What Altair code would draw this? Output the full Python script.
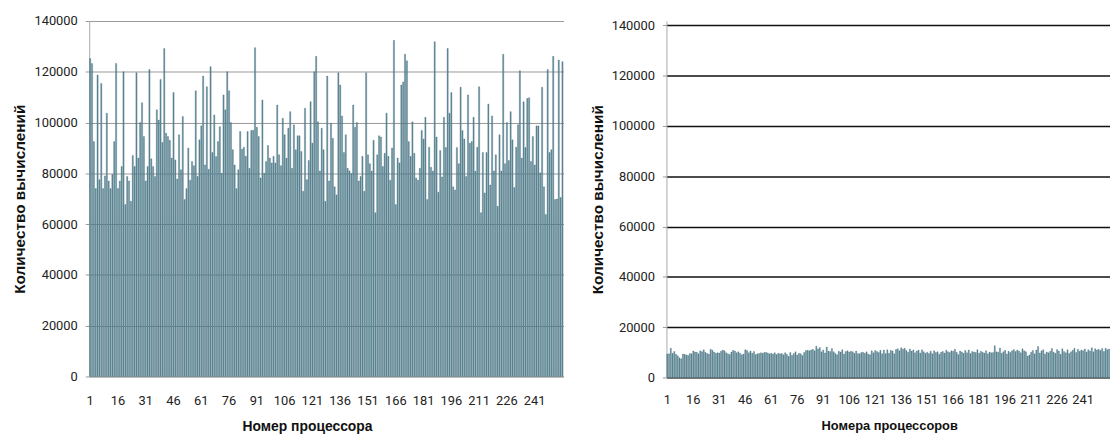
import altair as alt
import pandas as pd

# Left panel: number of computations per processor
left_values = [
    125200, 123300, 92500, 74000, 118700, 77500, 115400, 74000, 79000, 103700,
    77000, 74000, 79500, 92500, 123300, 74000, 77000, 82700, 120000, 67700,
    78800, 77000, 69000, 87000, 82700, 119600, 86000, 100000, 107800, 94500,
    77000, 82700, 120900, 85700, 82700, 78800, 105000, 101000, 117000, 92200,
    129200, 95800, 94500, 93000, 86000, 111800, 85300, 77800, 95200, 81400,
    102400, 69700, 74000, 90000, 77300, 84700, 83000, 112500, 78800, 93200,
    98700, 118300, 83300, 114100, 81600, 122000, 88200, 103000, 86600, 92500,
    98400, 80000, 110900, 105000, 120000, 112500, 100000, 89300, 83300, 74000,
    81400, 96500, 89500, 90300, 86700, 96500, 82000, 96900, 97000, 129500,
    98200, 94500, 78200, 108900, 80000, 84700, 91000, 86000, 84100, 86700,
    84100, 106900, 87300, 83000, 101700, 95200, 86000, 97800, 104300, 82000,
    99100, 89300, 94800, 94800, 88600, 72900, 105600, 77500, 85100, 108200,
    91900, 120000, 126100, 100300, 80900, 97800, 89300, 69000, 118300, 77000,
    99700, 93800, 74700, 71500, 119600, 114800, 102600, 88200, 95200, 82000,
    81000, 79900, 106900, 98200, 100000, 77000, 78800, 86700, 72900, 119600,
    87300, 83800, 80900, 93000, 64500, 87300, 94800, 94300, 82700, 87900,
    103700, 86700, 77300, 90000, 132400, 67700, 86000, 84100, 114800, 116000,
    126900, 124300, 92500, 86700, 100300, 87900, 78200, 77300, 82000, 96900,
    93500, 102100, 69700, 90300, 82400, 80900, 131800, 94300, 72600, 89000,
    78600, 102100, 90200, 129200, 103700, 111800, 74700, 73400, 90200, 83800,
    113900, 96900, 93500, 78800, 110900, 91900, 92500, 102100, 80900, 90300,
    114100, 64500, 88200, 72300, 88200, 107300, 75400, 102600, 80900, 87300,
    67000, 95200, 80900, 126900, 83800, 100000, 85100, 104300, 93200, 74400,
    90300, 99100, 120400, 86000, 108200, 90200, 109500, 109800, 84700, 94500,
    83300, 98700, 98700, 80200, 113900, 74700, 63800, 120900, 88200, 89300,
    126100, 69700, 69900, 124600, 70500, 124000,
]

# Right panel: number of computations per processor after balancing
right_values = [
    9300, 9400, 11600, 9600, 10300, 9200, 8600, 7800, 7400, 9300, 9200, 8900, 8700, 9500, 9400, 10500,
    10100, 10000, 9400, 10600, 10200, 11000, 10000, 9500, 9300, 11200, 10800, 10100, 9600, 9800, 9700, 10400,
    10900, 10600, 9800, 9400, 9100, 10100, 10800, 10500, 9800, 10200, 9600, 9000, 9300, 11000, 10700, 9800,
    10500, 9600, 10300, 9100, 9400, 9500, 9800, 9600, 9900, 10000, 9700, 9400, 9600, 9300, 9800, 9100,
    9600, 9400, 9500, 9000, 9800, 9200, 8400, 9900, 8800, 9500, 10200, 8900, 9600, 9400, 8700, 9900,
    10700, 10800, 10600, 10900, 11200, 10600, 12400, 11300, 11900, 10200, 10900, 9700, 12100, 10500, 10300, 11500,
    10200, 9500, 9000, 10400, 10100, 11000, 9300, 10300, 10600, 10100, 10400, 10200, 9600, 10500, 9500, 9400,
    9900, 10000, 9600, 10200, 9300, 9000, 10600, 9800, 10700, 10300, 9900, 10800, 9400, 10900, 9500, 11000,
    9600, 10800, 10500, 9400, 11100, 11400, 10600, 11800, 11200, 11600, 10700, 10000, 11300, 10500, 10900, 9800,
    10500, 10900, 9700, 11000, 10200, 9600, 10000, 9500, 10400, 9400, 10600, 9900, 10200, 9200, 10000, 10300,
    9700, 10800, 10200, 9900, 10600, 10400, 11200, 10000, 9100, 10500, 10100, 9600, 10700, 9800, 10900, 9500,
    10300, 10100, 9900, 11000, 9600, 10400, 10000, 9700, 10600, 9400, 10100, 9800, 9900, 12600, 10200, 10000,
    11700, 9600, 10200, 10800, 9300, 10400, 9900, 10600, 11100, 10300, 10900, 10500, 9800, 11400, 10600, 10200,
    8500, 8900, 10000, 10700, 9400, 10900, 12300, 9700, 10600, 11000, 9300, 10100, 9800, 10400, 11500, 10000,
    9600, 11100, 10500, 9200, 11400, 10300, 9800, 11000, 9500, 10200, 10800, 11600, 9900, 11200, 10400, 10900,
    10600, 11300, 10100, 11000, 10500, 11800, 10200, 11400, 10900, 11200, 10700, 11500, 10300, 11600, 11000, 11300,
]

x_ticks = [1, 16, 31, 46, 61, 76, 91, 106, 121, 136, 151, 166, 181, 196, 211, 226, 241]
y_ticks = [0, 20000, 40000, 60000, 80000, 100000, 120000, 140000]

left_title_y = "Количество вычислений"
left_title_x = "Номер процессора"
right_title_y = "Количество вычислений"
right_title_x = "Номера процессоров"

df_left = pd.DataFrame({"p": list(range(1, len(left_values) + 1)), "v": left_values})
df_right = pd.DataFrame({"p": list(range(1, len(right_values) + 1)), "v": right_values})

LABEL_FONT = "Roboto, Liberation Sans, sans-serif"
BOLD = "Liberation Sans"
BAR = "#67939b"


def panel(df, tx, ty, w, h, ymax, grid_color, grid_width, title_x_off, tx_size,
          x_label_pad, x_title_pad):
    return (
        alt.Chart(df)
        .mark_bar(color=BAR, stroke="#1f4b68", strokeWidth=0.3, strokeOpacity=0.85)
        .encode(
            x=alt.X(
                "p:O",
                scale=alt.Scale(paddingInner=0.35, paddingOuter=0.2),
                axis=alt.Axis(
                    values=x_ticks,
                    labelAngle=0,
                    title=tx,
                    ticks=False,
                    labelPadding=x_label_pad,
                    labelFont=LABEL_FONT,
                    labelFontSize=13,
                    labelColor="#222",
                    titleFont=BOLD,
                    titleFontSize=tx_size,
                    titleFontWeight="bold",
                    titleColor="#111",
                    titlePadding=x_title_pad,
                    titleX=title_x_off,
                    domainColor="#aaaaaa",
                    grid=False,
                ),
            ),
            y=alt.Y(
                "v:Q",
                scale=alt.Scale(domain=[0, ymax], nice=False),
                axis=alt.Axis(
                    values=y_ticks,
                    format="d",
                    title=ty,
                    tickSize=4,
                    tickColor="#999",
                    labelPadding=8,
                    labelFont=LABEL_FONT,
                    labelFontSize=13,
                    labelColor="#222",
                    titleFont=BOLD,
                    titleFontSize=15.5,
                    titleFontWeight="bold",
                    titleColor="#111",
                    titlePadding=6,
                    domainColor="#aaaaaa",
                    grid=True,
                    gridColor=grid_color,
                    gridWidth=grid_width,
                ),
            ),
        )
        .properties(width=w, height=h)
    )


left = panel(df_left, left_title_x, left_title_y, 479, 359, 140000,
             "#999999", 1, 220, 14, 18, 13)
right = panel(df_right, right_title_x, right_title_y, 448, 360, 141770,
              "#111111", 1.5, 225, 13, 16, 14)

chart = (
    alt.hconcat(left, right, spacing=27)
    .properties(padding={"left": 5, "top": 5, "right": 0, "bottom": 0})
    .configure_view(stroke=None)
)

chart.save("out.html", embed_options={"renderer": "svg", "actions": False})
